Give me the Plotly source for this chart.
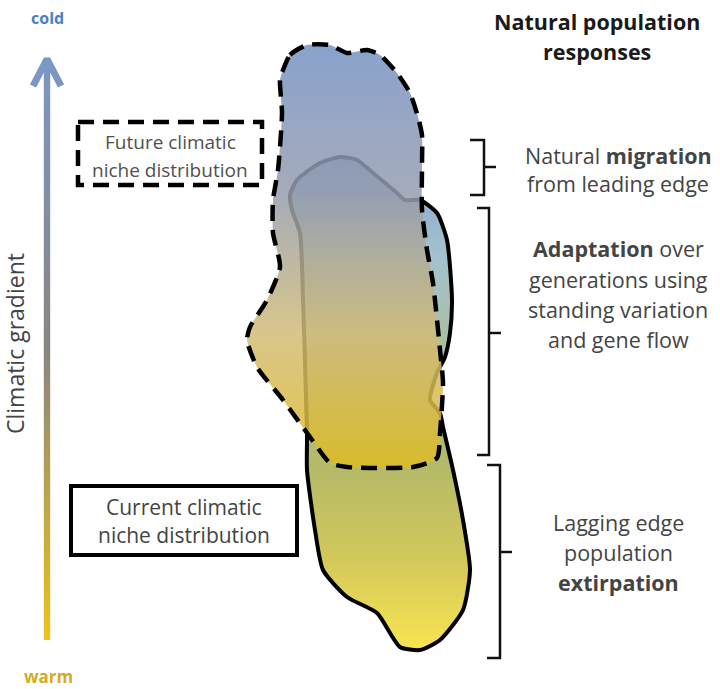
import plotly.graph_objects as go

W, H = 720, 689

# ---- outlines (pixel coordinates of the diagram) ----
current_x = [290, 297, 320, 340, 357, 373, 397, 405, 420, 437, 447, 452, 450, 445, 437, 430, 440, 443, 453, 463, 470, 463, 440, 420, 400, 377, 347, 323, 315, 307, 307, 303, 300, 292, 290]
current_y = [195, 180, 163, 157, 160, 173, 193, 200, 200, 213, 240, 300, 333, 357, 373, 400, 413, 427, 470, 520, 570, 610, 640, 650, 647, 613, 597, 570, 530, 470, 433, 300, 233, 210, 195]

future_x = [283, 290, 307, 330, 347, 367, 380, 397, 410, 418, 422, 422, 422, 427, 433, 440, 443, 440, 437, 413, 347, 330, 310, 283, 257, 247, 250, 267, 280, 273, 273, 278, 282, 280, 283]
future_y = [70, 55, 45, 45, 53, 50, 55, 73, 93, 117, 135, 165, 210, 250, 283, 350, 383, 433, 458, 467, 467, 463, 437, 400, 367, 340, 327, 300, 267, 233, 200, 170, 113, 80, 70]

current_colors = [[0.0, "#86a4cc"], [0.2, "#a3c2cf"], [0.63, "#b5ba68"], [0.82, "#d3c95a"], [1.0, "#f8e452"]]
future_colors = [[0.0, "#7592c4"], [0.35, "#959cae"], [0.68, "#d2bb78"], [1.0, "#dfbb22"]]
arrow_colors = [[0.0, "#7b97c4"], [0.5, "#8a8580"], [1.0, "#ebc41a"]]

brackets = [  # (top, bottom, x_vertical, x_end, tick_y)
    (140, 195, 484, 470, 167),
    (208, 455, 489, 477, 333),
    (465, 658, 500, 487, 552),
]
# response texts: one entry per line (text, y)
response_lines = [
    ("Natural <b>migration</b>", 155),
    ("from leading edge", 183),
    ("<b>Adaptation</b> over", 248),
    ("generations using", 279),
    ("standing variation", 309),
    ("and gene flow", 339),
    ("Lagging edge", 522),
    ("population", 552),
    ("<b>extirpation</b>", 582),
]
title_lines = [("Natural population", 21), ("responses", 51)]
future_lines = [("Future climatic", 142), ("niche distribution", 170)]
current_lines = [("Current climatic", 507), ("niche distribution", 535)]

fig = go.Figure()

# arrow shaft (gradient)
ax0, ay_top, ay_bot, aw = 47, 62, 640, 3.2
fig.add_trace(go.Scatter(
    x=[ax0 - aw, ax0 + aw, ax0 + aw, ax0 - aw, ax0 - aw],
    y=[ay_top, ay_top, ay_bot, ay_bot, ay_top],
    fill="toself", mode="none",
    fillgradient=dict(type="vertical", colorscale=arrow_colors, start=ay_top, stop=ay_bot),
    hoverinfo="skip", showlegend=False))
# arrowhead
fig.add_trace(go.Scatter(
    x=[33, 47, 61], y=[86, 59, 86], mode="lines",
    line=dict(color="#7b97c4", width=7), hoverinfo="skip", showlegend=False))

# current distribution fill + outline
fig.add_trace(go.Scatter(
    x=current_x, y=current_y, fill="toself", mode="lines",
    line=dict(color="black", width=4, shape="spline", smoothing=0.6),
    fillgradient=dict(type="vertical", colorscale=current_colors, start=157, stop=650),
    hoverinfo="skip", showlegend=False))

# future distribution fill (semi-transparent)
fig.add_trace(go.Scatter(
    x=future_x, y=future_y, fill="toself", mode="none",
    line=dict(shape="spline", smoothing=0.6),
    fillgradient=dict(type="vertical", colorscale=future_colors, start=45, stop=467),
    opacity=0.85, hoverinfo="skip", showlegend=False))
# future dashed outline
fig.add_trace(go.Scatter(
    x=future_x, y=future_y, mode="lines",
    line=dict(color="black", width=4.5, dash="16px,9px", shape="spline", smoothing=0.6),
    hoverinfo="skip", showlegend=False))

# brackets
for (t, b, xv, xe, ty) in brackets:
    fig.add_trace(go.Scatter(
        x=[xe, xv, xv, xe], y=[t, t, b, b], mode="lines",
        line=dict(color="#111111", width=2.5), hoverinfo="skip", showlegend=False))
    fig.add_trace(go.Scatter(
        x=[xv, xv + 12], y=[ty, ty], mode="lines",
        line=dict(color="#111111", width=2.5), hoverinfo="skip", showlegend=False))

FONT = "Open Sans"
shapes = [
    dict(type="rect", x0=78, y0=122, x1=262, y1=185, line=dict(color="black", width=4.5, dash="16px,9px")),
    dict(type="rect", x0=71, y0=486, x1=297, y1=555, line=dict(color="black", width=4)),
]
ann = [
    dict(x=47, y=18, text="<b>cold</b>", font=dict(size=16, color="#4a80c4")),
    dict(x=48, y=676, text="<b>warm</b>", font=dict(size=17, color="#d6ab22")),
    dict(x=15, y=344, text="Climatic gradient", textangle=-90, font=dict(size=23, color="#444444")),
]
for txt, ty in future_lines:
    ann.append(dict(x=170, y=ty, text=txt, font=dict(size=19, color="#505050")))
for txt, ty in current_lines:
    ann.append(dict(x=184, y=ty, text=txt, font=dict(size=21, color="#444444")))
for txt, ty in title_lines:
    ann.append(dict(x=597, y=ty, text="<b>" + txt + "</b>", font=dict(size=21.5, color="#1a1a1a")))
for txt, ty in response_lines:
    ann.append(dict(x=618, y=ty, text=txt, font=dict(size=21.5, color="#444444")))
for a in ann:
    a.update(xref="x", yref="y", showarrow=False, xanchor="center", yanchor="middle")
    a["font"]["family"] = FONT

fig.update_layout(
    width=W, height=H, margin=dict(l=0, r=0, t=0, b=0),
    paper_bgcolor="white", plot_bgcolor="white",
    xaxis=dict(range=[0, W], visible=False, fixedrange=True),
    yaxis=dict(range=[H, 0], visible=False, fixedrange=True),
    shapes=shapes, annotations=ann, showlegend=False,
)
fig.write_html("out.html", config=dict(displayModeBar=False),
               post_script="document.body.style.margin='0';")
